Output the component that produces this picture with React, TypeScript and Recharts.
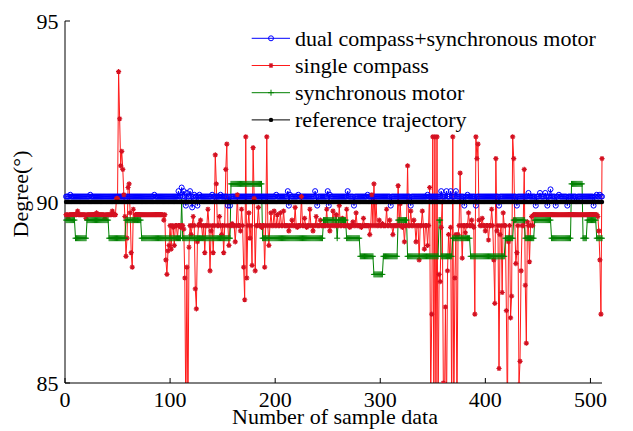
import { Line, LineChart, XAxis, YAxis } from 'recharts';

// #region Sample data
const sampleCount = 511;
const xTicks = [0, 100, 200, 300, 400, 500];
const yTicks = [85, 90, 95];
const seriesNames = ['dual compass+synchronous motor', 'single compass', 'synchronous motor', 'reference trajectory'];

// [first sample, level] - level holds until the next entry
const referenceSteps = [[1, 90]];
const motorSteps = [
    [1, 89.5], [10, 89.0], [21, 89.5], [42, 89.0], [58, 89.5], [73, 89.0], [111, 90.0], [112, 89.0],
    [158, 90.5], [188, 89.0], [246, 89.5], [259, 89.0], [260, 89.5], [268, 89.0], [281, 88.5], [294, 88.0],
    [303, 88.5], [317, 89.5], [326, 88.5], [356, 89.5], [358, 88.5], [369, 89.0], [386, 88.5], [419, 89.0],
    [427, 89.5], [438, 89.0], [447, 89.5], [463, 89.0], [482, 90.5], [493, 89.0], [497, 89.5], [506, 89.0],
];
const dualSteps = [[1, 90.15]];
const dualPoints = [
    [5, 90.2], [24, 90.2], [85, 90.2], [108, 90.3], [111, 90.4], [113, 90.3], [115, 89.9], [116, 90.25],
    [119, 90.3], [121, 89.85], [123, 90.2], [126, 89.9], [128, 90.2], [140, 90.2], [148, 90.2], [155, 89.9],
    [157, 89.9], [201, 90.2], [212, 90.3], [213, 89.9], [214, 90.2], [222, 90.2], [238, 90.3], [240, 89.9],
    [250, 90.3], [251, 89.9], [252, 90.2], [269, 90.3], [275, 89.9], [288, 90.2], [310, 89.9], [329, 89.9],
    [345, 90.2], [358, 90.3], [363, 90.3], [367, 90.3], [372, 90.3], [380, 89.9], [383, 90.2], [391, 89.9],
    [413, 89.9], [430, 89.9], [441, 90.25], [448, 89.9], [452, 90.25], [457, 90.25], [459, 89.9], [462, 90.35],
    [467, 89.9], [470, 90.2], [478, 89.9], [487, 90.05], [503, 89.9], [506, 90.2], [509, 90.2],
];
const singleSteps = [[1, 89.65], [96, 89.35], [446, 89.65], [507, 89.6]];
const singlePoints = [
    [3, 89.55], [12, 89.75], [20, 89.55], [30, 89.7], [38, 89.55], [45, 89.75],
    [49, 90.1], [50, 90.1], [51, 93.6], [52, 92.3], [53, 91.0], [54, 91.4], [55, 90.9], [56, 90.2],
    [57, 89.6], [58, 88.5], [59, 89.0], [60, 90.4], [61, 90.5], [62, 89.7], [63, 88.6], [64, 88.2],
    [65, 89.8], [66, 89.5], [94, 89.5], [96, 88.4], [97, 88.0], [98, 88.65], [99, 88.8], [101, 88.7],
    [103, 89.3], [104, 88.8], [107, 89.0], [110, 89.3], [113, 89.25], [114, 87.9], [115, 84.0], [116, 88.2],
    [117, 84.0], [118, 88.75], [120, 89.1], [122, 89.6], [124, 87.6], [125, 87.05], [126, 88.9], [128, 89.4],
    [129, 89.5], [131, 89.0], [133, 88.6], [136, 89.8], [138, 88.1], [139, 89.2], [141, 88.6], [143, 91.3],
    [144, 90.5], [147, 89.6], [149, 89.1], [151, 88.6], [153, 90.9], [154, 91.6], [156, 88.8], [159, 89.4],
    [162, 88.9], [164, 90.2], [167, 89.2], [168, 89.8], [170, 88.2], [171, 87.3], [172, 91.8], [173, 87.9],
    [175, 89.7], [176, 89.0], [178, 88.25], [179, 91.5], [180, 90.1], [181, 88.1], [184, 89.85], [187, 89.3],
    [190, 88.2], [192, 91.8], [194, 88.8], [196, 89.7], [199, 89.75], [202, 89.65], [205, 89.7], [208, 89.75],
    [210, 89.35], [213, 89.2], [216, 89.5], [219, 89.85], [221, 89.3], [225, 90.15], [228, 89.55], [230, 89.3],
    [233, 89.8], [236, 89.2], [239, 89.6], [243, 89.5], [246, 89.35], [249, 89.8], [252, 89.2], [255, 89.75],
    [258, 89.65], [261, 89.9], [264, 89.55], [268, 89.8], [271, 89.3], [274, 89.45], [277, 89.7], [282, 89.3],
    [284, 89.55], [287, 89.35], [290, 89.1], [292, 90.2], [294, 90.5], [296, 90.0], [299, 89.5], [302, 89.4],
    [306, 89.8], [309, 89.5], [312, 89.1], [317, 90.45], [319, 89.95], [321, 89.3], [323, 88.9], [326, 91.0],
    [329, 89.75], [332, 89.5], [334, 88.9], [337, 88.4], [340, 89.75], [342, 88.7], [345, 88.8], [347, 90.4],
    [348, 84.5], [349, 86.9], [350, 91.8], [351, 84.0], [352, 91.8], [353, 84.0], [354, 91.8], [355, 84.0],
    [356, 88.0], [357, 87.8], [358, 89.3], [359, 90.0], [360, 85.0], [361, 84.0], [362, 87.1], [363, 84.0],
    [364, 88.1], [365, 89.1], [366, 88.5], [367, 89.3], [368, 84.0], [369, 91.8], [370, 84.0], [371, 87.9],
    [372, 89.1], [373, 84.0], [374, 89.1], [376, 90.8], [378, 88.45], [381, 89.15], [384, 89.7], [387, 89.5],
    [389, 89.3], [390, 86.9], [391, 91.8], [392, 91.2], [393, 91.6], [394, 89.5], [397, 89.55], [400, 89.2],
    [403, 88.95], [406, 89.8], [408, 88.4], [409, 87.2], [410, 91.2], [411, 89.2], [413, 85.4], [414, 89.1],
    [416, 87.5], [417, 89.7], [420, 87.0], [421, 84.0], [422, 88.9], [424, 86.8], [425, 87.4], [426, 91.8],
    [427, 91.2], [428, 89.5], [429, 88.3], [430, 88.6], [432, 84.95], [433, 85.6], [434, 88.1], [437, 90.9],
    [438, 87.7], [439, 86.1], [440, 89.45], [442, 88.35], [444, 89.6],
    [508, 89.2], [509, 88.4], [510, 86.9], [511, 91.2],
];
// #endregion

const expand = (steps: number[][], points: number[][] = []) => {
    const out: number[] = [];
    let s = 0;
    for (let x = 1; x <= sampleCount; x++) {
        while (s + 1 < steps.length && steps[s + 1][0] <= x) s++;
        out.push(steps[s][1]);
    }
    points.forEach(([x, v]) => { out[x - 1] = v; });
    return out;
};

const dual = expand(dualSteps, dualPoints);
const single = expand(singleSteps, singlePoints);
const motor = expand(motorSteps);
const reference = expand(referenceSteps);
const data = dual.map((v, i) => ({ x: i + 1, dual: v, single: single[i], motor: motor[i], reference: reference[i] }));

const FONT = "'Liberation Serif', 'Times New Roman', serif";
const BLUE = '#0000ff';
const RED = '#ff1a1a';
const RED_MARK = '#d41020';
const GREEN = '#008000';

const Circle = ({ cx, cy }: any) => <circle cx={cx} cy={cy} r={2.5} fill="none" stroke={BLUE} strokeWidth={1} />;
const Star = ({ cx, cy }: any) => (
    <path d={`M${cx - 2.6},${cy}H${cx + 2.6}M${cx},${cy - 2.6}V${cy + 2.6}M${cx - 1.8},${cy - 1.8}L${cx + 1.8},${cy + 1.8}M${cx - 1.8},${cy + 1.8}L${cx + 1.8},${cy - 1.8}`} stroke={RED_MARK} strokeWidth={1.2} />
);
const Plus = ({ cx, cy }: any) => <path d={`M${cx - 3},${cy}H${cx + 3}M${cx},${cy - 3}V${cy + 3}`} stroke={GREEN} strokeWidth={1} />;
const Dot = ({ cx, cy }: any) => <circle cx={cx} cy={cy} r={2.2} fill="#000" />;

const dotOf = (Shape: any) => (p: any) => (p.cx == null || p.cy == null ? <g key={p.index} /> : <Shape key={p.index} cx={p.cx} cy={p.cy} />);

const XLabel = () => <text x={335} y={424} textAnchor="middle" fontFamily={FONT} fontSize={22} fill="#000">Number of sample data</text>;
const YLabel = () => <text x={28} y={194} transform="rotate(-90, 28, 194)" textAnchor="middle" fontFamily={FONT} fontSize={22} fill="#000">Degree(°)</text>;

const legendRows = [
    { name: seriesNames[0], color: BLUE, Shape: Circle },
    { name: seriesNames[1], color: RED, Shape: Star },
    { name: seriesNames[2], color: GREEN, Shape: Plus },
    { name: seriesNames[3], color: '#000', Shape: Dot },
];

export default function App() {
    const tick = { fontFamily: FONT, fontSize: 22, fill: '#000' };
    return (
        <div style={{ position: 'absolute', left: 0, top: 0, width: 633, height: 431, background: '#fff' }}>
            <LineChart width={633} height={431} data={data} margin={{ top: 21, right: 31, bottom: 0, left: 0 }}>
                <XAxis dataKey="x" type="number" domain={[0, 511]} ticks={xTicks} interval={0} height={48}
                    tick={tick} tickSize={-5} tickMargin={13} stroke="#000" axisLine={{ stroke: '#000' }} tickLine={{ stroke: '#000' }}
                    label={<XLabel />} />
                <YAxis type="number" domain={[85, 95]} ticks={yTicks} interval={0} width={65} allowDataOverflow
                    tick={tick} tickSize={-5} tickMargin={11.6} stroke="#000" axisLine={{ stroke: '#000' }} tickLine={{ stroke: '#000' }}
                    label={<YLabel />} />
                <Line dataKey="dual" name={seriesNames[0]} stroke={BLUE} strokeWidth={1} dot={dotOf(Circle)} activeDot={false} isAnimationActive={false} />
                <Line dataKey="single" name={seriesNames[1]} stroke={RED} strokeWidth={1} dot={dotOf(Star)} activeDot={false} isAnimationActive={false} />
                <Line dataKey="motor" name={seriesNames[2]} stroke={GREEN} strokeWidth={1} dot={dotOf(Plus)} activeDot={false} isAnimationActive={false} />
                <Line dataKey="reference" name={seriesNames[3]} stroke="#000" strokeWidth={1} dot={dotOf(Dot)} activeDot={false} isAnimationActive={false} />
            </LineChart>
            <svg width={360} height={140} style={{ position: 'absolute', left: 245, top: 20 }}>
                {legendRows.map((r, i) => {
                    const y = 18.3 + i * 27.2;
                    return (
                        <g key={r.name}>
                            <line x1={6.7} x2={45} y1={y} y2={y} stroke={r.color} strokeWidth={1} />
                            <r.Shape cx={26} cy={y} />
                            <text x={50} y={y + 7.3} fontFamily={FONT} fontSize={22} fill="#000">{r.name}</text>
                        </g>
                    );
                })}
            </svg>
        </div>
    );
}
